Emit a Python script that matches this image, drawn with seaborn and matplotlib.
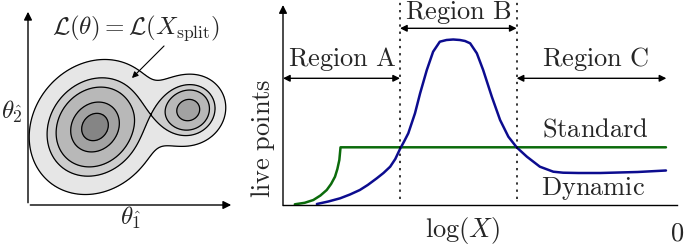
import numpy as np
import pandas as pd
import matplotlib
matplotlib.use("Agg")
import matplotlib.pyplot as plt
import seaborn as sns

# --- right panel: live points against log(X) ---
standard_logx = [-9.70, -9.45, -9.23, -9.05, -8.89, -8.78, -8.68, -8.62, -8.57, -8.54, -0.28]
standard_live = [0.07, 0.22, 0.50, 0.95, 1.50, 2.10, 2.83, 3.60, 4.50, 5.77, 5.77]

dynamic_logx = [-9.14, -8.85, -8.55, -8.30, -8.05, -7.85, -7.62, -7.45, -7.28, -7.15, -7.03,
                -6.92, -6.82, -6.65, -6.52, -6.35, -6.19, -6.02, -5.85, -5.68, -5.51, -5.38,
                -5.25, -5.08, -4.92, -4.70, -4.49, -4.28, -4.07, -3.81, -3.48, -3.14, -2.89,
                -2.50, -1.95, -1.00, -0.28]
dynamic_live = [0.10, 0.35, 0.67, 1.05, 1.50, 2.00, 2.67, 3.20, 3.83, 4.60, 5.60,
                6.40, 7.17, 9.17, 11.17, 13.50, 15.33, 16.33, 16.50, 16.55, 16.50, 16.40,
                16.17, 15.17, 13.50, 10.83, 8.50, 6.83, 5.77, 4.83, 3.83, 3.33, 3.23,
                3.20, 3.20, 3.30, 3.45]

region_edges = [-10.0, -7.03, -4.07, -0.27]
region_names = ["Region A", "Region B", "Region C"]

# --- left panel: two-mode likelihood sketch, in pixel space ---
mode_centres = [(95.0, 127.0), (189.0, 110.0)]
mode_sigmas = [(50.0, 43.0), (27.0, 25.0)]
mode_angles = [50.0, 30.0]
mode_heights = [1.0, 0.94]
mode_power = 2.0
band_colours = ["#e6e6e6", "#cdcdcd", "#b8b8b8", "#a2a2a2", "#858585"]
outer_level = 0.36
inner_levels = [0.70, 0.87, 0.959]

plt.rcParams["mathtext.fontset"] = "cm"
sns.set_style("white")

fig = plt.figure(figsize=(6.85, 2.46), dpi=100)

# left panel
ax1 = fig.add_axes([0, 0, 250 / 685, 1])
ax1.set_xlim(0, 250)
ax1.set_ylim(246, 0)
ax1.axis("off")

gx, gy = np.meshgrid(np.linspace(20, 250, 460), np.linspace(30, 220, 380))
like = np.zeros_like(gx)
for (cx, cy), (sa, sb), ang, h in zip(mode_centres, mode_sigmas, mode_angles, mode_heights):
    t = np.deg2rad(ang)
    u = (gx - cx) * np.cos(t) - (gy - cy) * np.sin(t)
    v = (gx - cx) * np.sin(t) + (gy - cy) * np.cos(t)
    like += (h * np.exp(-0.5 * ((u / sa) ** 2 + (v / sb) ** 2))) ** mode_power
like = like ** (1.0 / mode_power)

# saddle = lowest point of the ridge between the two modes
cols = (gx[0] > mode_centres[0][0]) & (gx[0] < mode_centres[1][0])
saddle = like[:, cols].max(axis=0).min()
levels = [outer_level, saddle] + inner_levels
ax1.contourf(gx, gy, like, levels=levels + [like.max() + 1], colors=band_colours)
ax1.contour(gx, gy, like, levels=levels, colors="black", linewidths=0.9)

ax1.annotate("", xy=(28, 9), xytext=(28, 205.5),
             arrowprops=dict(arrowstyle="-|>", color="black", lw=1.0, mutation_scale=12))
ax1.annotate("", xy=(234, 205), xytext=(27.5, 205),
             arrowprops=dict(arrowstyle="-|>", color="black", lw=1.0, mutation_scale=12))
ax1.annotate("", xy=(130, 80), xytext=(166, 44),
             arrowprops=dict(arrowstyle="-|>", color="black", lw=0.8, mutation_scale=9))
ax1.text(136, 28, r"$\mathcal{L}(\theta) = \mathcal{L}(X_{\rm split})$", fontsize=18,
         ha="center", va="center")
ax1.text(12, 112, r"$\theta_{\hat{2}}$", fontsize=18, ha="center", va="center")
ax1.text(131, 218, r"$\theta_{\hat{1}}$", fontsize=18, ha="center", va="center")

# right panel
ax2 = fig.add_axes([283 / 685, 1 - 205 / 246, 394 / 685, 197 / 246])
ax2.set_xlim(-10, 0)
ax2.set_ylim(0, 19.7)
ax2.patch.set_alpha(0)

std_df = pd.DataFrame({"logx": standard_logx, "live": standard_live})
dyn_df = pd.DataFrame({"logx": dynamic_logx, "live": dynamic_live})
sns.lineplot(data=std_df, x="logx", y="live", color="#0b6b0b", lw=1.8, sort=False,
             estimator=None, ax=ax2)
sns.lineplot(data=dyn_df, x="logx", y="live", color="#0c0c8f", lw=1.8, sort=False,
             estimator=None, ax=ax2)

for xe in region_edges[1:3]:
    ax2.plot([xe, xe], [0.6, 20.5], color="black", lw=1.1, ls=(0, (1.5, 3.2)), clip_on=False)

arrow_kw = dict(arrowstyle="<|-|>", color="black", lw=1.0, mutation_scale=10,
                shrinkA=0, shrinkB=0)
ax2.annotate("", xy=(region_edges[1], 12.67), xytext=(region_edges[0], 12.67),
             arrowprops=arrow_kw, annotation_clip=False)
ax2.annotate("", xy=(region_edges[2], 17.67), xytext=(region_edges[1], 17.67),
             arrowprops=arrow_kw, annotation_clip=False)
ax2.annotate("", xy=(region_edges[3], 12.67), xytext=(region_edges[2], 12.67),
             arrowprops=arrow_kw, annotation_clip=False)

fs = 19
ax2.text(-8.51, 13.9, r"$\mathrm{%s}$" % region_names[0].replace(" ", r"\ "), fontsize=fs,
         ha="center", va="baseline")
ax2.text(-5.55, 18.6, r"$\mathrm{%s}$" % region_names[1].replace(" ", r"\ "), fontsize=fs,
         ha="center", va="baseline", clip_on=False)
ax2.text(-2.08, 13.9, r"$\mathrm{%s}$" % region_names[2].replace(" ", r"\ "), fontsize=fs,
         ha="center", va="baseline")
ax2.text(-2.08, 6.85, r"$\mathrm{Standard}$", fontsize=fs, ha="center", va="baseline")
ax2.text(-2.12, 1.0, r"$\mathrm{Dynamic}$", fontsize=fs, ha="center", va="baseline")
ax2.text(-5.43, -2.6, r"$\log(X)$", fontsize=fs, ha="center", va="center", clip_on=False)

ax2.annotate("", xy=(-10, 20.0), xytext=(-10, -0.05),
             arrowprops=dict(arrowstyle="-|>", color="black", lw=1.0, mutation_scale=12,
                             shrinkA=0, shrinkB=0), annotation_clip=False)
for side in ["top", "right", "left"]:
    ax2.spines[side].set_visible(False)
ax2.spines["bottom"].set_linewidth(1.0)
ax2.spines["bottom"].set_color("black")
ax2.set_yticks([])
ax2.set_xticks([0])
ax2.set_xticklabels([r"$0$"], fontsize=fs)
ax2.tick_params(axis="x", direction="out", length=7, width=1.0, color="black", pad=4)
ax2.set_xlabel("")
ax2.set_ylabel(r"$\mathrm{live\ points}$", fontsize=fs, labelpad=2)
ax2.yaxis.set_label_coords(-0.016, 0.34)

fig.savefig("out.png", dpi=100)
